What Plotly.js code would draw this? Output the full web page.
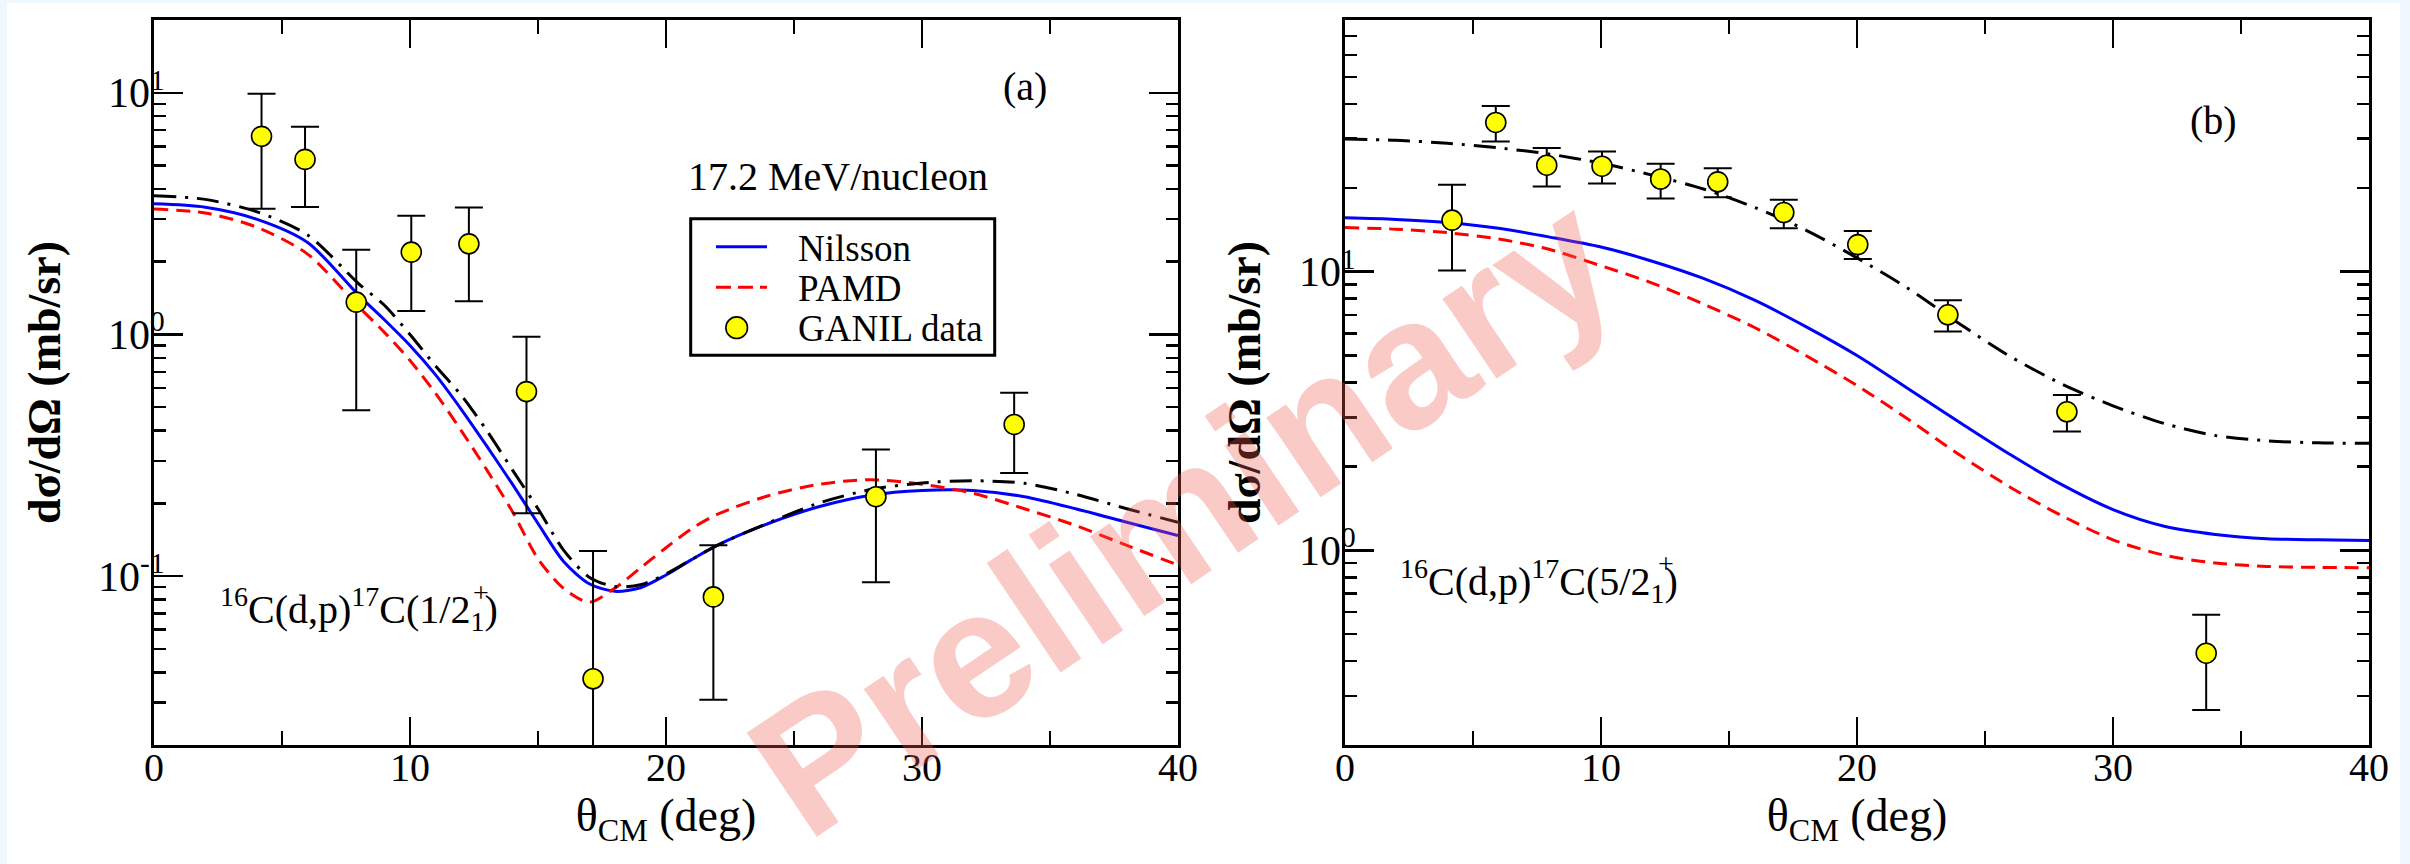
<!DOCTYPE html>
<html>
<head>
<meta charset="utf-8">
<script src="https://cdn.plot.ly/plotly-3.0.1.min.js"></script>
<style>
  html, body { margin: 0; padding: 0; background: #f0f8ff; width: 2410px; height: 864px; overflow: hidden; }
  #plot { position: absolute; left: 7px; top: 3px; width: 2393px; height: 861px; background: #ffffff; }
</style>
</head>
<body>
<div id="plot"></div>
<script>
// ---------- Panel (a): 16C(d,p)17C(1/2+) ----------
const thetaCurveA = [0, 2, 4, 6, 8, 9, 10, 11, 12, 13, 14, 15, 16, 17, 18, 19, 20, 21, 22, 24, 26, 28, 30, 32, 34, 36, 38, 40];
const nilssonA = [3.47, 3.36, 3.0, 2.40, 1.45, 1.15, 0.90, 0.68, 0.49, 0.345, 0.24, 0.165, 0.115, 0.093, 0.0865, 0.0895, 0.101, 0.117, 0.134, 0.165, 0.194, 0.216, 0.226, 0.226, 0.213, 0.19, 0.167, 0.147];
const pamdA    = [3.30, 3.18, 2.78, 2.15, 1.30, 1.02, 0.78, 0.57, 0.40, 0.275, 0.185, 0.118, 0.089, 0.078, 0.089, 0.108, 0.131, 0.157, 0.18, 0.215, 0.24, 0.2506, 0.240, 0.22, 0.19, 0.162, 0.134, 0.111];
const otherA   = [3.75, 3.62, 3.22, 2.58, 1.62, 1.32, 1.0, 0.74, 0.56, 0.40, 0.275, 0.19, 0.128, 0.099, 0.0905, 0.092, 0.102, 0.117, 0.134, 0.166, 0.201, 0.228, 0.243, 0.248, 0.242, 0.218, 0.19, 0.167];

const thetaDataA = [4.2, 5.9, 7.9, 10.05, 12.3, 14.55, 17.15, 21.85, 28.2, 33.6];
const ganilA     = [6.6, 5.3, 1.36, 2.19, 2.37, 0.58, 0.0376, 0.082, 0.213, 0.424];
const ganilHiA   = [9.9, 7.24, 2.24, 3.10, 3.35, 0.978, 0.127, 0.134, 0.334, 0.574];
const ganilLoA   = [3.31, 3.37, 0.485, 1.25, 1.37, 0.182, 0.010, 0.0308, 0.0944, 0.267];

// ---------- Panel (b): 16C(d,p)17C(5/2+) ----------
const thetaCurveB = [0, 2, 4, 6, 8, 10, 12, 14, 16, 18, 20, 22, 24, 26, 28, 30, 32, 34, 36, 38, 40];
const nilssonB = [15.6, 15.4, 15.0, 14.3, 13.3, 12.25, 10.9, 9.45, 7.9, 6.35, 5.0, 3.8, 2.88, 2.2, 1.72, 1.40, 1.22, 1.14, 1.10, 1.09, 1.085];
const pamdB    = [14.4, 14.2, 13.8, 13.1, 12.0, 10.5, 9.1, 7.65, 6.3, 5.0, 3.9, 2.95, 2.2, 1.68, 1.33, 1.09, 0.96, 0.90, 0.875, 0.868, 0.866];
const otherB   = [29.9, 29.6, 28.9, 27.8, 26.4, 24.5, 22.2, 19.8, 17.0, 14.1, 11.2, 8.7, 6.5, 4.95, 3.95, 3.3, 2.85, 2.58, 2.47, 2.43, 2.42];

const thetaDataB = [4.18, 5.89, 7.88, 10.04, 12.33, 14.56, 17.14, 20.03, 23.55, 28.2, 33.64];
const ganilB     = [15.3, 34.3, 24.1, 23.9, 21.5, 21.0, 16.3, 12.5, 7.0, 3.14, 0.427];
const ganilHiB   = [20.5, 39.3, 27.8, 27.0, 24.4, 23.5, 18.1, 14.0, 7.9, 3.61, 0.587];
const ganilLoB   = [10.1, 29.3, 20.2, 20.7, 18.3, 18.5, 14.3, 11.1, 6.1, 2.67, 0.267];

// ---------- Tick labels / legend labels ----------
const xTickVals = [0, 10, 20, 30, 40];
const xTickText = ['0', '10', '20', '30', '40'];
const yTickValsA = [0.1, 1, 10];
const yTickTextA = ['10<sup>-1</sup>', '10<sup>0</sup>', '10<sup>1</sup>'];
const yTickValsB = [1, 10];
const yTickTextB = ['10<sup>0</sup>', '10<sup>1</sup>'];
const yMinorA = [0.02,0.03,0.04,0.05,0.06,0.07,0.08,0.09,0.2,0.3,0.4,0.5,0.6,0.7,0.8,0.9,2,3,4,5,6,7,8,9,20];
const yMinorB = [0.2,0.3,0.4,0.5,0.6,0.7,0.8,0.9,2,3,4,5,6,7,8,9,20,30,40,50,60,70,80];
const legendNames = ['Nilsson', 'PAMD', 'GANIL data'];

const SERIF = 'Liberation Serif, Times New Roman, serif';
const BLUE = '#0000ff', RED = '#ff0000', BLACK = '#000000', YELLOW = '#ffff00';
const DASH_RED = '14px,8px', DASH_BLACK = '22px,9px,3px,9px';
const diff = (a, b) => a.map((v, i) => v - b[i]);

function curve(x, y, name, color, dash, xa, ya) {
  return { x: x, y: y, name: name, type: 'scatter', mode: 'lines',
    line: { color: color, width: 3, dash: dash, shape: 'spline', smoothing: 0.8 },
    xaxis: xa, yaxis: ya, showlegend: false, hoverinfo: 'skip' };
}
function dataTrace(x, y, hi, lo, xa, ya) {
  return { x: x, y: y, name: 'GANIL data', type: 'scatter', mode: 'markers',
    marker: { size: 20, color: YELLOW, line: { color: BLACK, width: 1.6 } },
    error_y: { type: 'data', symmetric: false, array: diff(hi, y), arrayminus: diff(y, lo),
               color: BLACK, thickness: 2, width: 14 },
    xaxis: xa, yaxis: ya, showlegend: false, cliponaxis: true, hoverinfo: 'skip' };
}

const traces = [
  curve(thetaCurveA, nilssonA, 'Nilsson', BLUE, 'solid', 'x', 'y'),
  curve(thetaCurveA, pamdA, 'PAMD', RED, DASH_RED, 'x', 'y'),
  curve(thetaCurveA, otherA, 'other', BLACK, DASH_BLACK, 'x', 'y'),
  dataTrace(thetaDataA, ganilA, ganilHiA, ganilLoA, 'x', 'y'),
  curve(thetaCurveB, nilssonB, 'Nilsson', BLUE, 'solid', 'x2', 'y2'),
  curve(thetaCurveB, pamdB, 'PAMD', RED, DASH_RED, 'x2', 'y2'),
  curve(thetaCurveB, otherB, 'other', BLACK, DASH_BLACK, 'x2', 'y2'),
  dataTrace(thetaDataB, ganilB, ganilHiB, ganilLoB, 'x2', 'y2')
];

function xAxis(domain, anchor) {
  return { domain: domain, anchor: anchor, range: [0, 40], tickmode: 'array', tickvals: xTickVals, ticktext: xTickText,
    showline: true, linewidth: 3, linecolor: BLACK, mirror: 'ticks', ticks: 'inside', ticklen: 28, tickwidth: 2.5, tickcolor: BLACK,
    minor: { ticks: 'inside', dtick: 5, tick0: 0, ticklen: 14, tickwidth: 2.5, tickcolor: BLACK },
    showgrid: false, zeroline: false, ticklabelstandoff: -15,
    tickfont: { family: SERIF, size: 40, color: BLACK },
    title: { text: 'θ<sub>CM</sub> (deg)', font: { family: SERIF, size: 46, color: BLACK }, standoff: 10 } };
}
function yAxis(range, tv, tt, minor, anchor) {
  return { type: 'log', anchor: anchor, domain: [0, 1], range: range, tickmode: 'array', tickvals: tv, ticktext: tt,
    showline: true, linewidth: 3, linecolor: BLACK, mirror: 'ticks', ticks: 'inside', ticklen: 29, tickwidth: 2.5, tickcolor: BLACK,
    minor: { ticks: 'inside', tickmode: 'array', tickvals: minor, ticklen: 12, tickwidth: 2.5, tickcolor: BLACK },
    showgrid: false, zeroline: false, ticklabelstandoff: -22,
    tickfont: { family: SERIF, size: 42, color: BLACK },
    title: { text: 'dσ/dΩ (mb/sr)', font: { family: SERIF, size: 46, color: BLACK, weight: 'bold' }, standoff: 24 } };
}

const ann = (x, y, text, size, extra) => Object.assign({ xref: 'paper', yref: 'paper', x: x, y: y, text: text, showarrow: false,
  font: { family: SERIF, size: size, color: BLACK }, xanchor: 'center', yanchor: 'middle' }, extra || {});

// Legend (drawn in panel (a), paper coordinates)
const legendShapes = [
  { type: 'rect', xref: 'paper', yref: 'paper', x0: 0.2423, x1: 0.37955, y0: 0.53752, y1: 0.72593,
    fillcolor: '#ffffff', line: { color: BLACK, width: 3 }, layer: 'above' },
  { type: 'line', xref: 'paper', yref: 'paper', x0: 0.25372, x1: 0.27675, y0: 0.68731, y1: 0.68731,
    line: { color: BLUE, width: 3 }, layer: 'above' },
  { type: 'line', xref: 'paper', yref: 'paper', x0: 0.25372, x1: 0.27675, y0: 0.63131, y1: 0.63131,
    line: { color: RED, width: 3, dash: '15px,7px' }, layer: 'above' },
  { type: 'circle', xref: 'paper', yref: 'paper', x0: 0.25818, x1: 0.26795, y0: 0.56069, y1: 0.59048,
    fillcolor: YELLOW, line: { color: BLACK, width: 1.6 }, layer: 'above' }
];

const layout = {
  width: 2393, height: 861,
  margin: { l: 147, r: 31, t: 17, b: 119 },
  paper_bgcolor: '#ffffff', plot_bgcolor: '#ffffff',
  showlegend: false,
  xaxis: xAxis([0, 0.4623], 'y'),
  yaxis: yAxis([Math.log10(0.02), Math.log10(20)], yTickValsA, yTickTextA, yMinorA, 'x'),
  xaxis2: xAxis([0.5377, 1], 'y2'),
  yaxis2: yAxis([Math.log10(0.2), Math.log10(80)], yTickValsB, yTickTextB, yMinorB, 'x2'),
  shapes: legendShapes,
  annotations: [
    ann(0.28971, 0.6851, legendNames[0], 37, { xanchor: 'left' }),
    ann(0.28971, 0.6299, legendNames[1], 37, { xanchor: 'left' }),
    ann(0.28971, 0.5748, legendNames[2], 37, { xanchor: 'left' }),
    ann(0.3932, 0.9076, '(a)', 40),
    ann(0.3086, 0.7848, '17.2 MeV/nucleon', 40),
    ann(0.0289, 0.1876, '<sup>16</sup>C(d,p)<sup>17</sup>C(1/2<sub>1</sub>)', 40, { xanchor: 'left' }),
    ann(0.1476, 0.211, '+', 28),
    ann(0.930, 0.862, '(b)', 40),
    ann(0.5616, 0.2262, '<sup>16</sup>C(d,p)<sup>17</sup>C(5/2<sub>1</sub>)', 40, { xanchor: 'left' }),
    ann(0.6826, 0.25, '+', 28),
    ann(0.4645, 0.318, 'Preliminary', 182, { textangle: -34,
      font: { family: 'Liberation Sans, Arial, sans-serif', size: 182, color: 'rgba(238,90,80,0.32)', weight: 'bold' } })
  ]
};

Plotly.newPlot('plot', traces, layout, { displayModeBar: false, staticPlot: true });
</script>
</body>
</html>
